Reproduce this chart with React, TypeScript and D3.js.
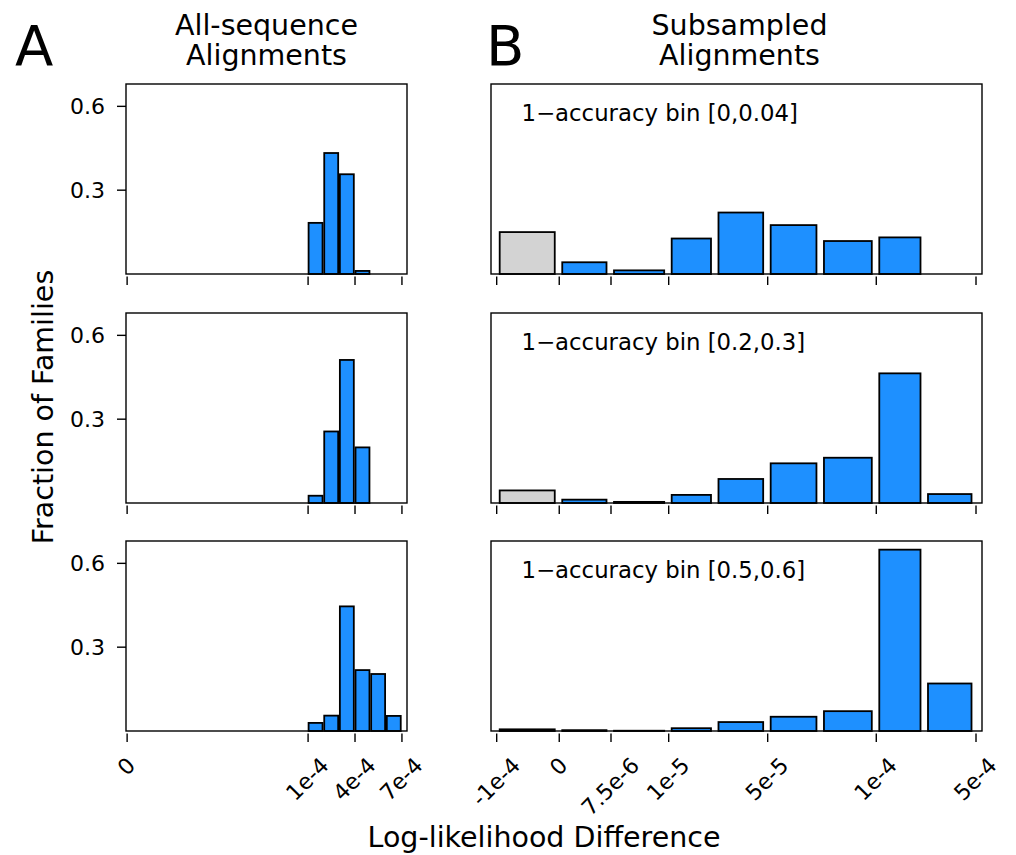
import React from "react";
import * as d3 from "d3";

// ---------------- data ----------------
const leftEdges = [1e-4, 2e-4, 3e-4, 4e-4, 5e-4, 6e-4, 7e-4];
const leftTop = [0.183, 0.433, 0.357, 0.011, 0, 0];
const leftMid = [0.026, 0.256, 0.512, 0.199, 0, 0];
const leftBot = [0.029, 0.055, 0.446, 0.218, 0.204, 0.054];

const rightEdges = [-1e-4, 0, 7.5e-6, 1e-5, 2.5e-5, 5e-5, 7.5e-5, 1e-4, 2.5e-4, 5e-4];
const rightTop = [0.15, 0.042, 0.013, 0.127, 0.22, 0.175, 0.118, 0.131, 0];
const rightMid = [0.045, 0.012, 0.004, 0.029, 0.086, 0.142, 0.162, 0.464, 0.032];
const rightBot = [0.006, 0.003, 0.001, 0.01, 0.032, 0.051, 0.071, 0.649, 0.17];

const binLabels = ["1\u2212accuracy bin [0,0.04]", "1\u2212accuracy bin [0.2,0.3]", "1\u2212accuracy bin [0.5,0.6]"];

const leftTickValues = [0, 1e-4, 4e-4, 7e-4];
const leftTickLabels = ["0", "1e-4", "4e-4", "7e-4"];
const rightTickValues = [-1e-4, 0, 7.5e-6, 1e-5, 5e-5, 1e-4, 5e-4];
const rightTickLabels = ["-1e-4", "0", "7.5e-6", "1e-5", "5e-5", "1e-4", "5e-4"];
const yTickValues = [0.3, 0.6];
const yTickLabels = ["0.3", "0.6"];

// ---------------- layout ----------------
const W = 1016, H = 855;
const FONT = "DejaVu Sans, Verdana, sans-serif";
const TICK_FS = 22;
const LABEL_FS = 28.5;
const ROW_TOPS = [84, 313, 541];
const PANEL_H = 190;
const LEFT_X = 126, LEFT_W = 281;
const RIGHT_X = 491, RIGHT_W = 491;
// breakpoints of the (piecewise) x axes, as fractions of the panel width
const leftBreakVals = [0, 1e-4, 7e-4];
const leftBreakFrac = [0.004, 0.648, 0.982];
const rightBreakFrac = [0.0116, 0.139, 0.2444, 0.3619, 0.4572, 0.5635, 0.672, 0.7847, 0.8839, 0.9878];
const BLUE = "#1e90ff";
const GRAY = "#d3d3d3";

let _ctx: CanvasRenderingContext2D | null = null;
function textWidth(s: string, fs: number) {
  if (!_ctx && typeof document !== "undefined") {
    _ctx = document.createElement("canvas").getContext("2d");
  }
  if (!_ctx) return s.length * fs * 0.6;
  _ctx.font = `${fs}px DejaVu Sans`;
  return _ctx.measureText(s).width;
}

const yScale = (top: number) => d3.scaleLinear().domain([0, 0.68]).range([top + PANEL_H, top]);
const xLeft = d3.scaleLinear().domain(leftBreakVals).range(leftBreakFrac.map((f) => LEFT_X + f * LEFT_W));
const xRight = d3.scaleLinear().domain(rightEdges).range(rightBreakFrac.map((f) => RIGHT_X + f * RIGHT_W));

function RotLabel({ x, top, text }: { x: number; top: number; text: string }) {
  const w = textWidth(text, TICK_FS);
  const h = TICK_FS;
  const HH = (w + h) / Math.SQRT2;
  const cy = top + HH / 2;
  return (
    <text
      transform={`translate(${x},${cy}) rotate(-45)`}
      textAnchor="middle"
      dy="0.3em"
      fontSize={TICK_FS}
      fontFamily={FONT}
      fill="#000"
    >
      {text}
    </text>
  );
}

function Panel({
  x0, w, top, x, edges, values, firstGray, tickVals, tickLabels, showXLabels, showY, annot, insetL, insetR,
}: any) {
  const y = yScale(top);
  const bottom = top + PANEL_H;
  return (
    <g>
      {values.map((v: number, i: number) => {
        const a = x(edges[i]) + insetL;
        const b = x(edges[i + 1]) - insetR;
        const yy = y(v);
        return (
          <rect
            key={i}
            x={a}
            y={yy}
            width={Math.max(0, b - a)}
            height={Math.max(0, bottom - yy)}
            fill={firstGray && i === 0 ? GRAY : BLUE}
            stroke="#000"
            strokeWidth={1.8}
          />
        );
      })}
      <rect x={x0} y={top} width={w} height={PANEL_H} fill="none" stroke="#000" strokeWidth={1.4} />
      {tickVals.map((t: number, i: number) => (
        <g key={i}>
          <line x1={x(t)} x2={x(t)} y1={bottom + 2.5} y2={bottom + 11} stroke="#000" strokeWidth={1.4} />
          {showXLabels && <RotLabel x={x(t)} top={bottom + 23.5} text={tickLabels[i]} />}
        </g>
      ))}
      {showY &&
        yTickValues.map((t, i) => (
          <g key={i}>
            <line x1={x0 - 9} x2={x0} y1={y(t)} y2={y(t)} stroke="#000" strokeWidth={1.4} />
            <text x={x0 - 21} y={y(t)} dy="0.36em" textAnchor="end" fontSize={TICK_FS} fontFamily={FONT}>
              {yTickLabels[i]}
            </text>
          </g>
        ))}
      {annot && (
        <text x={521.5} y={top + 36.5} fontSize={22.8} fontFamily={FONT}>
          {annot}
        </text>
      )}
    </g>
  );
}

export default function App() {
  const leftVals = [leftTop, leftMid, leftBot];
  const rightVals = [rightTop, rightMid, rightBot];
  return (
    <svg width={W} height={H} style={{ display: "block", background: "#fff", position: "absolute", left: 0, top: 0 }}>
      <rect x={0} y={0} width={W} height={H} fill="#fff" />
      {ROW_TOPS.map((top, r) => (
        <g key={r}>
          <Panel
            x0={LEFT_X} w={LEFT_W} top={top} x={xLeft} edges={leftEdges} values={leftVals[r]}
            firstGray={false} tickVals={leftTickValues} tickLabels={leftTickLabels}
            showXLabels={r === 2} showY={true} insetL={0.5} insetR={1.2}
          />
          <Panel
            x0={RIGHT_X} w={RIGHT_W} top={top} x={xRight} edges={rightEdges} values={rightVals[r]}
            firstGray={true} tickVals={rightTickValues} tickLabels={rightTickLabels}
            showXLabels={r === 2} showY={false} annot={binLabels[r]} insetL={3} insetR={4.5}
          />
        </g>
      ))}
      {/* titles */}
      <text x={15} y={65} fontSize={56} fontFamily={FONT}>A</text>
      <text x={486} y={65} fontSize={56} fontFamily={FONT}>B</text>
      <text x={LEFT_X + LEFT_W / 2} y={35} textAnchor="middle" fontSize={LABEL_FS} fontFamily={FONT}>All-sequence</text>
      <text x={LEFT_X + LEFT_W / 2} y={65} textAnchor="middle" fontSize={LABEL_FS} fontFamily={FONT}>Alignments</text>
      <text x={RIGHT_X + RIGHT_W / 2 + 3} y={35} textAnchor="middle" fontSize={LABEL_FS} fontFamily={FONT}>Subsampled</text>
      <text x={RIGHT_X + RIGHT_W / 2 + 3} y={65} textAnchor="middle" fontSize={LABEL_FS} fontFamily={FONT}>Alignments</text>
      {/* axis labels */}
      <text transform={`translate(53,407) rotate(-90)`} textAnchor="middle" fontSize={LABEL_FS} fontFamily={FONT}>
        Fraction of Families
      </text>
      <text x={544} y={847} textAnchor="middle" fontSize={LABEL_FS} fontFamily={FONT}>
        Log-likelihood Difference
      </text>
    </svg>
  );
}
